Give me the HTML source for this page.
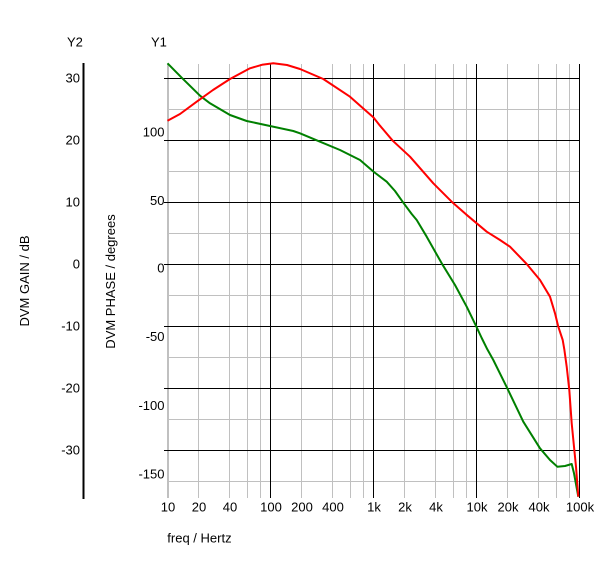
<!DOCTYPE html>
<html>
<head>
<meta charset="utf-8">
<style>
html,body{margin:0;padding:0;background:#fff;}
svg{display:block;}
text{font-family:"Liberation Sans",Arial,sans-serif;font-size:13px;fill:#000;}
</style>
</head>
<body>
<svg width="600" height="563" viewBox="0 0 600 563" xmlns="http://www.w3.org/2000/svg">
<rect width="600" height="563" fill="#fff"/>
<!-- minor vertical grid -->
<g stroke="#c0c0c0" stroke-width="1">
<line x1="198.5" y1="64" x2="198.5" y2="498"/>
<line x1="229.5" y1="64" x2="229.5" y2="498"/>
<line x1="247.5" y1="64" x2="247.5" y2="498"/>
<line x1="260.5" y1="64" x2="260.5" y2="498"/>
<line x1="301.5" y1="64" x2="301.5" y2="498"/>
<line x1="332.5" y1="64" x2="332.5" y2="498"/>
<line x1="350.5" y1="64" x2="350.5" y2="498"/>
<line x1="363.5" y1="64" x2="363.5" y2="498"/>
<line x1="404.5" y1="64" x2="404.5" y2="498"/>
<line x1="435.5" y1="64" x2="435.5" y2="498"/>
<line x1="453.5" y1="64" x2="453.5" y2="498"/>
<line x1="466.5" y1="64" x2="466.5" y2="498"/>
<line x1="507.5" y1="64" x2="507.5" y2="498"/>
<line x1="538.5" y1="64" x2="538.5" y2="498"/>
<line x1="556.5" y1="64" x2="556.5" y2="498"/>
<line x1="569.5" y1="64" x2="569.5" y2="498"/>
<!-- minor horizontal -->
<line x1="168" y1="109.5" x2="580" y2="109.5"/>
<line x1="168" y1="171.5" x2="580" y2="171.5"/>
<line x1="168" y1="233.5" x2="580" y2="233.5"/>
<line x1="168" y1="295.5" x2="580" y2="295.5"/>
<line x1="168" y1="357.5" x2="580" y2="357.5"/>
<line x1="168" y1="419.5" x2="580" y2="419.5"/>
<line x1="168" y1="481.5" x2="580" y2="481.5"/>
</g>
<rect x="167" y="64" width="2" height="434" fill="#c0c0c0"/>
<!-- major grid -->
<g stroke="#000" stroke-width="1">
<line x1="270.5" y1="64" x2="270.5" y2="498"/>
<line x1="373.5" y1="64" x2="373.5" y2="498"/>
<line x1="476.5" y1="64" x2="476.5" y2="498"/>
<line x1="579.5" y1="64" x2="579.5" y2="498"/>
<line x1="164" y1="78.5" x2="580" y2="78.5"/>
<line x1="164" y1="140.5" x2="580" y2="140.5"/>
<line x1="164" y1="202.5" x2="580" y2="202.5"/>
<line x1="164" y1="264.5" x2="580" y2="264.5"/>
<line x1="164" y1="326.5" x2="580" y2="326.5"/>
<line x1="164" y1="388.5" x2="580" y2="388.5"/>
<line x1="164" y1="450.5" x2="580" y2="450.5"/>
</g>
<!-- Y2 axis -->
<rect x="82.5" y="63" width="2" height="436" fill="#000"/>
<!-- curves -->
<polyline fill="none" stroke="#008000" stroke-width="2" stroke-linejoin="round" points="167.5,63.3 181.7,77.7 200,95.7 210,103.3 230,115 246.7,121 270,126 293.3,131 300,133.3 320,141.7 340,150 360,160 373.3,171.5 386.7,181.7 395,191 403.3,202.7 411.7,214 416.7,220 426.7,236.7 441.7,263.3 455,285 466.7,306.7 476.7,327.3 481.7,338 487.3,349.3 493.3,360 507.3,388.3 523.3,421.7 540,448.3 550,460 557.3,466.7 565,466 571.7,464 574,473.3 578.3,496.7"/>
<polyline fill="none" stroke="#ff0000" stroke-width="2" stroke-linejoin="round" points="167.5,120.7 180,114 196.7,101.7 213,90 230,79 250,68.3 262,64.8 273.3,63.3 287,65 300,69 323.3,79 350,96.7 365,110 373.3,117.3 380,125.7 392.7,140.7 410,156.7 433.3,183.3 451.7,201.7 466,214.3 476.7,223.3 486.7,231.7 500,240 510,246.7 526.7,264 540,280 550,296.7 555,313.3 558.3,326.7 562.7,340 564.3,349.3 566.7,366.7 569.3,390 571.7,423.3 574,446.7 576,466.7 578.3,496.7"/>
<!-- titles -->
<text x="67" y="46.7">Y2</text>
<text x="151" y="46.7">Y1</text>
<!-- Y2 labels -->
<g text-anchor="end">
<text x="80" y="82.5">30</text>
<text x="80" y="144.5">20</text>
<text x="80" y="206.5">10</text>
<text x="80" y="268.5">0</text>
<text x="80" y="330.5">-10</text>
<text x="80" y="392.5">-20</text>
<text x="80" y="454.5">-30</text>
<!-- Y1 labels -->
<text x="164.5" y="136.7">100</text>
<text x="164.5" y="205">50</text>
<text x="164.5" y="272.7">0</text>
<text x="164.5" y="341">-50</text>
<text x="164.5" y="410">-100</text>
<text x="164.5" y="478.3">-150</text>
</g>
<!-- axis titles -->
<text transform="translate(29,281) rotate(-90)" text-anchor="middle">DVM GAIN / dB</text>
<text transform="translate(115,281.5) rotate(-90)" text-anchor="middle">DVM PHASE / degrees</text>
<!-- x labels -->
<g text-anchor="middle">
<text x="168" y="511.7">10</text>
<text x="199" y="511.7">20</text>
<text x="230" y="511.7">40</text>
<text x="271" y="511.7">100</text>
<text x="302" y="511.7">200</text>
<text x="333" y="511.7">400</text>
<text x="374" y="511.7">1k</text>
<text x="405" y="511.7">2k</text>
<text x="436" y="511.7">4k</text>
<text x="477" y="511.7">10k</text>
<text x="508" y="511.7">20k</text>
<text x="539" y="511.7">40k</text>
<text x="580" y="511.7">100k</text>
</g>
<text x="167.3" y="542.7">freq / Hertz</text>
</svg>
</body>
</html>
